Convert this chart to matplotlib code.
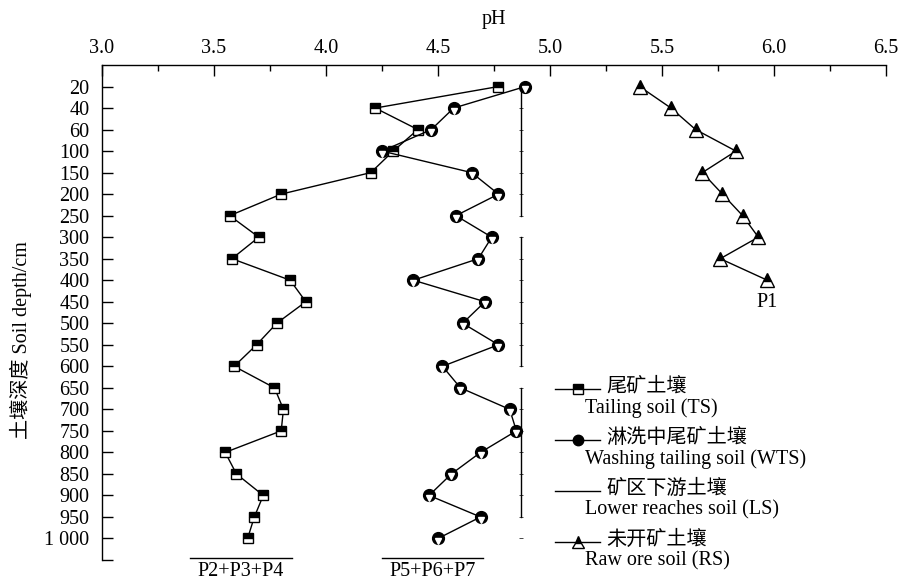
#!/usr/bin/env python
"""
Soil pH against depth for tailing, washing tailing, lower reaches and raw ore soils.
Saves the plot as out.png.
"""

# importing libraries
import matplotlib
matplotlib.use("Agg")
import matplotlib.pyplot as plt
from matplotlib.lines import Line2D
from matplotlib.ticker import MultipleLocator

# fonts: serif for latin text, CJK fallback for Chinese
plt.rcParams['font.family'] = ['Liberation Serif', 'Noto Sans CJK SC']
plt.rcParams['mathtext.fontset'] = 'stix'

# depth categories (cm)
depths = ["20", "40", "60", "100", "150", "200", "250", "300", "350", "400", "450",
          "500", "550", "600", "650", "700", "750", "800", "850", "900", "950", "1 000"]

# tailing soil (TS)
ts_ph = [4.77, 4.22, 4.41, 4.30, 4.20, 3.80, 3.57, 3.70, 3.58, 3.84, 3.91,
         3.78, 3.69, 3.59, 3.77, 3.81, 3.80, 3.55, 3.60, 3.72, 3.68, 3.65]

# washing tailing soil (WTS)
wts_ph = [4.89, 4.57, 4.47, 4.25, 4.65, 4.77, 4.58, 4.74, 4.68, 4.39, 4.71,
          4.61, 4.77, 4.52, 4.60, 4.82, 4.85, 4.69, 4.56, 4.46, 4.69, 4.50]

# lower reaches soil (LS), drawn as separate profile segments
ls_ph = [4.87] * 22
ls_segments = [(0, 6), (7, 13), (14, 20), (21, 21)]

# raw ore soil (RS), only the upper 10 depths
rs_ph = [5.40, 5.54, 5.65, 5.83, 5.68, 5.77, 5.86, 5.93, 5.76, 5.97]

FS = 14.5


def px(x, y):
    # pixel position of the 901x579 picture to figure fraction
    return x / 901, 1 - y / 579


def main():
    fig = plt.figure(figsize=(9.01, 5.79), dpi=100)
    ax = fig.add_axes([102 / 901, 1 - 560 / 579, 784 / 901, 495 / 579])

    idx = list(range(len(depths)))

    # TS line with half filled squares
    ax.plot(ts_ph, idx, color="black", lw=1, marker="s", ms=7.5,
            fillstyle="top", markerfacecolor="black", markerfacecoloralt="white",
            markeredgecolor="black", mew=1, zorder=3)

    # WTS line with dark circles
    ax.plot(wts_ph, idx, color="black", lw=1, marker="o", ms=8.5,
            markerfacecolor="black", markeredgecolor="black", zorder=3)
    ax.plot(wts_ph, [i + 0.12 for i in idx], ls="none", marker="v", ms=4,
            markerfacecolor="white", markeredgecolor="white", zorder=4)

    # LS vertical segments
    for a, b in ls_segments:
        ax.plot(ls_ph[a:b + 1], idx[a:b + 1], color="black", lw=1,
                marker="_", ms=2.5, mew=0.5, zorder=2)

    # RS line with half filled triangles
    ax.plot(rs_ph, idx[:len(rs_ph)], color="black", lw=1, marker="^", ms=9.5,
            fillstyle="top", markerfacecolor="black", markerfacecoloralt="white",
            markeredgecolor="black", mew=1, zorder=3)

    ax.text(rs_ph[-1], idx[len(rs_ph) - 1] + 1.05, "P1", fontsize=FS,
            ha="center", va="center")

    # axes styling
    ax.set_xlim(3.0, 6.5)
    ax.set_ylim(22, -1)
    ax.xaxis.tick_top()
    ax.xaxis.set_label_position("top")
    ax.xaxis.set_major_locator(MultipleLocator(0.5))
    ax.xaxis.set_minor_locator(MultipleLocator(0.25))
    ax.set_xticks([3.0, 3.5, 4.0, 4.5, 5.0, 5.5, 6.0, 6.5])
    ax.set_xticklabels(["3.0", "3.5", "4.0", "4.5", "5.0", "5.5", "6.0", "6.5"], fontsize=FS)
    ax.set_xlabel("pH", fontsize=FS, labelpad=11)
    ax.set_yticks(idx + [22])
    ax.set_yticklabels(depths + [""], fontsize=FS)
    ax.tick_params(axis="x", which="major", direction="in", length=8, width=1, pad=5)
    ax.tick_params(axis="x", which="minor", direction="in", length=4, width=1)
    ax.tick_params(axis="y", direction="in", length=8, width=1, pad=9)
    ax.spines["right"].set_visible(False)
    ax.spines["bottom"].set_visible(False)
    for s in ("top", "left"):
        ax.spines[s].set_linewidth(1)

    fig.text(*px(21, 340), "土壤深度 Soil depth/cm", rotation=90, fontsize=FS,
             ha="center", va="center")

    # group labels with overline at the bottom
    for x0, x1, label in [(190, 292, "P2+P3+P4"), (382, 483, "P5+P6+P7")]:
        fig.add_artist(Line2D([x0 / 901, x1 / 901], [1 - 558 / 579] * 2,
                              transform=fig.transFigure, color="black", lw=1))
        fig.text(*px((x0 + x1) / 2, 571), label, fontsize=FS, ha="center", va="center")

    # hand made legend
    entries = [
        (dict(marker="s", ms=6.5, fillstyle="top", markerfacecolor="black",
              markerfacecoloralt="white", markeredgecolor="black"), "尾矿土壤", "Tailing soil (TS)", 387),
        (dict(marker="o", ms=7.5, markerfacecolor="black", markeredgecolor="black"),
         "淋洗中尾矿土壤", "Washing tailing soil (WTS)", 438),
        (dict(marker="None"), "矿区下游土壤", "Lower reaches soil (LS)", 489),
        (dict(marker="^", ms=8, fillstyle="top", markerfacecolor="black",
              markerfacecoloralt="white", markeredgecolor="black"), "未开矿土壤", "Raw ore soil (RS)", 540),
    ]
    for style, cn, en, y in entries:
        xs = [555 / 901, 600 / 901]
        yy = [1 - (y + 2) / 579] * 2
        fig.add_artist(Line2D(xs, yy, transform=fig.transFigure, color="black", lw=1))
        if style.get("marker") != "None":
            fig.add_artist(Line2D([577.5 / 901], [yy[0]], transform=fig.transFigure,
                                  ls="none", **style))
        fig.text(*px(606, y), cn, fontsize=FS, ha="left", va="center")
        fig.text(*px(585, y + 21), en, fontsize=FS, ha="left", va="center")

    fig.savefig("out.png", dpi=100)


if __name__ == "__main__":
    main()
